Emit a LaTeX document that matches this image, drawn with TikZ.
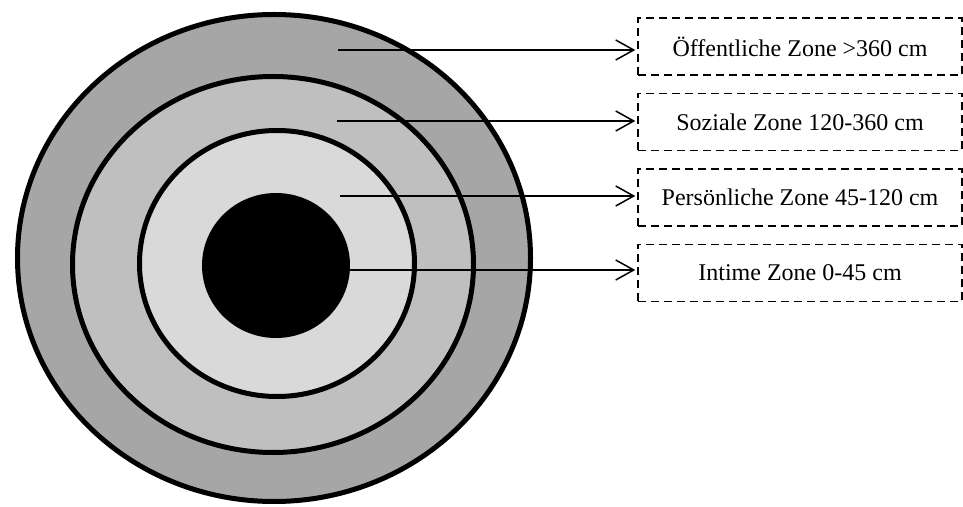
\documentclass[tikz,border=0pt]{standalone}
\usepackage{fontspec}
\setmainfont{Liberation Serif}
\usetikzlibrary{arrows.meta,positioning}
\definecolor{ringouter}{HTML}{A6A6A6}
\definecolor{ringmid}{HTML}{BFBFBF}
\definecolor{ringinner}{HTML}{D9D9D9}

\begin{document}
\begin{tikzpicture}[x=0.5pt, y=-0.5pt, node distance=8.5pt]
    \tikzstyle{zonering} = [draw=black, line width=2.5pt]
    \tikzstyle{zonebox} = [rectangle, draw, dash pattern=on 4pt off 2.5pt, line width=0.75pt, minimum width=162pt, minimum height=28.5pt, inner sep=0pt, text centered, font=\fontsize{12}{14}\selectfont]
    \tikzstyle{zonearrow} = [-{Straight Barb[length=9pt,width=10pt]}, line width=0.75pt, shorten >=1pt]
    \useasboundingbox (0,0) rectangle (963,507);

    % Zonen
    \filldraw[zonering, fill=ringouter] (274,258) ellipse [x radius=128.25pt, y radius=121.75pt];
    \filldraw[zonering, fill=ringmid] (273,264.5) ellipse [x radius=100.25pt, y radius=94pt];
    \filldraw[zonering, fill=ringinner] (277,263.5) ellipse [x radius=68.75pt, y radius=66.5pt];
    \fill[black] (276,265.5) ellipse [x radius=37pt, y radius=36.25pt];

    % Startpunkte
    \coordinate (s1) at (338,50);
    \coordinate (s2) at (337,121);
    \coordinate (s3) at (340,196);
    \coordinate (s4) at (350,270);

    % Beschriftungen
    \node[zonebox] (oeff) at (800,46.5) {Öffentliche Zone >360 cm};
    \node[zonebox] (sozial) [below=of oeff] {Soziale Zone 120-360 cm};
    \node[zonebox] (persoen) [below=of sozial] {Persönliche Zone 45-120 cm};
    \node[zonebox] (intim) [below=of persoen] {Intime Zone 0-45 cm};

    % Pfeile
    \draw[zonearrow] (s1) -- (s1 -| oeff.west);
    \draw[zonearrow] (s2) -- (s2 -| sozial.west);
    \draw[zonearrow] (s3) -- (s3 -| persoen.west);
    \draw[zonearrow] (s4) -- (s4 -| intim.west);
\end{tikzpicture}
\end{document}
